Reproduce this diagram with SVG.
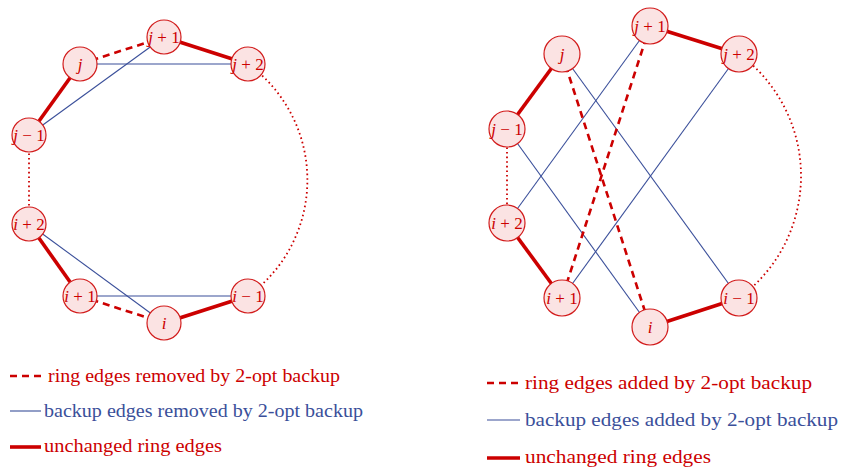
<svg xmlns="http://www.w3.org/2000/svg" width="841" height="469" viewBox="0 0 841 469">
<style>
.ring{stroke:#cc0000;stroke-width:3.6;fill:none;stroke-linecap:butt}
.dash{stroke:#cc0000;stroke-width:2.6;fill:none;stroke-dasharray:7 5}
.dot{stroke:#cc0000;stroke-width:1.8;fill:none;stroke-dasharray:1.6 3}
.bk{stroke:#3a4f9a;stroke-width:1.1;fill:none}
.nd circle{fill:#fbe3e3;stroke:#d21c1c;stroke-width:1.2}
.nd text{font-family:"Liberation Serif",serif;font-size:17px;fill:#cc0000;text-anchor:middle}
.it{font-style:italic}
.lg{font-family:"Liberation Serif",serif;font-size:18.5px}
.lr{fill:#cc0000}
.lb{fill:#3a4f9a}
</style>
<rect width="841" height="469" fill="#fff"/>
<g id="connectors">
  <path class="dot" d="M248,64 A143,143 0 0 1 248,296"/>
  <line class="dot" x1="29" y1="135" x2="29" y2="224"/>
  <line class="ring" x1="80" y1="64" x2="29" y2="135"/>
  <line class="ring" x1="164" y1="37" x2="248" y2="64"/>
  <line class="ring" x1="29" y1="224" x2="80" y2="296"/>
  <line class="ring" x1="164" y1="323" x2="248" y2="296"/>
  <line class="dash" x1="80" y1="64" x2="164" y2="37"/>
  <line class="dash" x1="80" y1="296" x2="164" y2="323"/>
  <line class="bk" x1="80" y1="64" x2="248" y2="64"/>
  <line class="bk" x1="29" y1="135" x2="164" y2="37"/>
  <line class="bk" x1="29" y1="224" x2="164" y2="323"/>
  <line class="bk" x1="80" y1="296" x2="248" y2="296"/>
  <path class="dot" d="M739,54 A151,151 0 0 1 739,298"/>
  <line class="dot" x1="507" y1="129" x2="507" y2="223"/>
  <line class="ring" x1="562" y1="54" x2="507" y2="129"/>
  <line class="ring" x1="650" y1="26" x2="739" y2="54"/>
  <line class="ring" x1="507" y1="223" x2="562" y2="298"/>
  <line class="ring" x1="650" y1="327" x2="739" y2="298"/>
  <line class="bk" x1="507" y1="129" x2="650" y2="327"/>
  <line class="bk" x1="562" y1="54" x2="739" y2="298"/>
  <line class="bk" x1="650" y1="26" x2="507" y2="223"/>
  <line class="bk" x1="739" y1="54" x2="562" y2="298"/>
  <line class="dash" x1="562" y1="54" x2="650" y2="327"/>
  <line class="dash" x1="650" y1="26" x2="562" y2="298"/>
</g>
<g id="L-j" class="nd"><circle cx="80" cy="64" r="17"/><text x="80" y="70"><tspan class="it">j</tspan></text></g>
<g id="L-j1" class="nd"><circle cx="164" cy="37" r="17"/><text x="164" y="43"><tspan class="it">j</tspan> + 1</text></g>
<g id="L-j2" class="nd"><circle cx="248" cy="64" r="17"/><text x="248" y="70"><tspan class="it">j</tspan> + 2</text></g>
<g id="L-jm1" class="nd"><circle cx="29" cy="135" r="17"/><text x="29" y="141"><tspan class="it">j</tspan> − 1</text></g>
<g id="L-i2" class="nd"><circle cx="29" cy="224" r="17"/><text x="29" y="230"><tspan class="it">i</tspan> + 2</text></g>
<g id="L-i1" class="nd"><circle cx="80" cy="296" r="17"/><text x="80" y="302"><tspan class="it">i</tspan> + 1</text></g>
<g id="L-i" class="nd"><circle cx="164" cy="323" r="17"/><text x="164" y="329"><tspan class="it">i</tspan></text></g>
<g id="L-im1" class="nd"><circle cx="248" cy="296" r="17"/><text x="248" y="302"><tspan class="it">i</tspan> − 1</text></g>

<g id="R-j" class="nd"><circle cx="562" cy="54" r="18"/><text x="562" y="60"><tspan class="it">j</tspan></text></g>
<g id="R-j1" class="nd"><circle cx="650" cy="26" r="18"/><text x="650" y="32"><tspan class="it">j</tspan> + 1</text></g>
<g id="R-j2" class="nd"><circle cx="739" cy="54" r="18"/><text x="739" y="60"><tspan class="it">j</tspan> + 2</text></g>
<g id="R-jm1" class="nd"><circle cx="507" cy="129" r="18"/><text x="507" y="135"><tspan class="it">j</tspan> − 1</text></g>
<g id="R-i2" class="nd"><circle cx="507" cy="223" r="18"/><text x="507" y="229"><tspan class="it">i</tspan> + 2</text></g>
<g id="R-i1" class="nd"><circle cx="562" cy="298" r="18"/><text x="562" y="304"><tspan class="it">i</tspan> + 1</text></g>
<g id="R-i" class="nd"><circle cx="650" cy="327" r="18"/><text x="650" y="333"><tspan class="it">i</tspan></text></g>
<g id="R-im1" class="nd"><circle cx="739" cy="298" r="18"/><text x="739" y="304"><tspan class="it">i</tspan> − 1</text></g>

<g id="legend-left">
  <line class="dash" x1="10" y1="376" x2="42" y2="376" stroke-dasharray="7 5.5"/>
  <text class="lg lr" x="48" y="382" textLength="292" lengthAdjust="spacingAndGlyphs">ring edges removed by 2-opt backup</text>
  <line class="bk" x1="10" y1="411" x2="41" y2="411"/>
  <text class="lg lb" x="44" y="417" textLength="319" lengthAdjust="spacingAndGlyphs">backup edges removed by 2-opt backup</text>
  <line class="ring" x1="10" y1="447" x2="41" y2="447"/>
  <text class="lg lr" x="44" y="452" textLength="178" lengthAdjust="spacingAndGlyphs">unchanged ring edges</text>
</g>
<g id="legend-right">
  <line class="dash" x1="487" y1="383" x2="520" y2="383" stroke-dasharray="7 5.5"/>
  <text class="lg lr" x="525" y="389" textLength="287" lengthAdjust="spacingAndGlyphs">ring edges added by 2-opt backup</text>
  <line class="bk" x1="487" y1="420" x2="520" y2="420"/>
  <text class="lg lb" x="525" y="426" textLength="313" lengthAdjust="spacingAndGlyphs">backup edges added by 2-opt backup</text>
  <line class="ring" x1="487" y1="458" x2="520" y2="458"/>
  <text class="lg lr" x="525" y="463" textLength="186" lengthAdjust="spacingAndGlyphs">unchanged ring edges</text>
</g>
</svg>
